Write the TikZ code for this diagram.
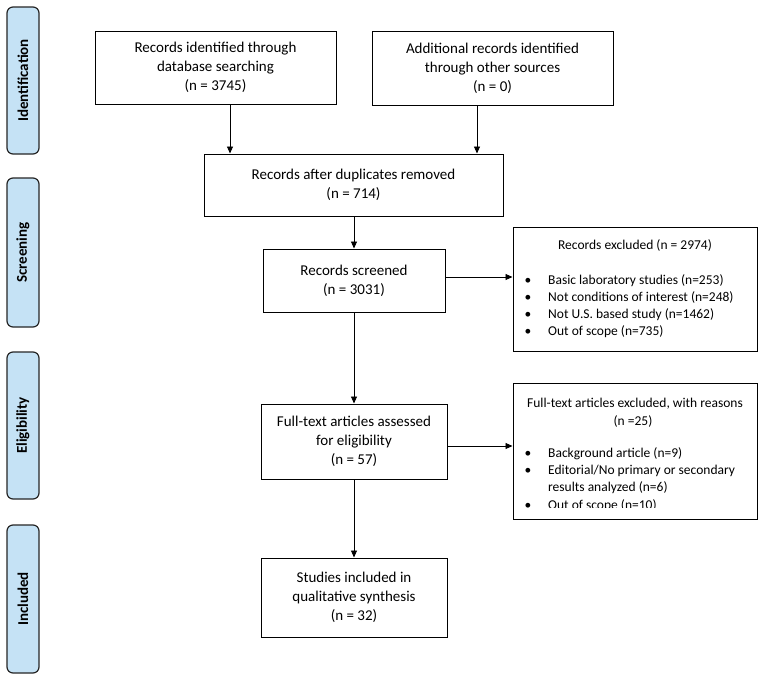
\documentclass[tikz,border=0pt]{standalone}
\usepackage{fontspec}
\setmainfont{Carlito}
\usetikzlibrary{arrows.meta}
\definecolor{tabblue}{RGB}{197,226,245}
\begin{document}
\begin{tikzpicture}[x=1pt,y=-1pt,
  box/.style={draw=black, line width=1pt, inner sep=0pt, align=center, font=\fontsize{15}{19}\selectfont},
  tab/.style={draw=black!85, fill=tabblue, rounded corners=6pt, line width=1.2pt, rotate=90, minimum height=32pt, inner sep=0pt, font=\bfseries\fontsize{15}{18}\selectfont},
  arr/.style={-{Triangle[length=7pt,width=6pt]}, line width=0.9pt},
  txt/.style={anchor=base, inner sep=0pt, font=\fontsize{13.5}{17}\selectfont},
  txtl/.style={txt, anchor=base west},
  ]
\fill[white] (0,0) rectangle (764,681);
\useasboundingbox (0,0) rectangle (764,681);

% side tabs
\node[tab, minimum width=147pt] (t1) at (23,80.5) {Identification};
\node[tab, minimum width=149pt] (t2) at (23,252.5) {Screening};
\node[tab, minimum width=147pt] (t3) at (23,425.5) {Eligibility};
\node[tab, minimum width=148pt] (t4) at (23,599) {Included};

% main boxes
\node[box, minimum width=241pt, minimum height=73pt] (b1) at (215.5,67.5) {Records identified through\\database searching\\(n = 3745)};
\node[box, minimum width=241pt, minimum height=74pt] (b2) at (492.5,68) {Additional records identified\\through other sources\\(n = 0)};
\node[box, minimum width=299pt, minimum height=62pt] (b3) at (353.5,185) {Records after duplicates removed\\(n = 714)};
\node[box, minimum width=182pt, minimum height=63pt] (b4) at (354,280.5) {Records screened\\(n = 3031)};
\node[box, minimum width=186pt, minimum height=75pt] (b5) at (354,441.5) {Full-text articles assessed\\for eligibility\\(n = 57)};
\node[box, minimum width=186pt, minimum height=79pt] (b6) at (354,597.5) {Studies included in\\qualitative synthesis\\(n = 32)};

% exclusion boxes
\node[box, minimum width=244pt, minimum height=124pt] (e1) at (635,289) {};
\node[box, minimum width=244pt, minimum height=136pt] (e2) at (635,451) {};

\node[txt] (e1h) at (635,249.5) {Records excluded (n = 2974)};
\node[txt] (e1d1) at (528,284.5) {\textbullet};
\node[txtl] (e1t1) at (548,284.5) {Basic laboratory studies (n=253)};
\node[txt] (e1d2) at (528,301.5) {\textbullet};
\node[txtl] (e1t2) at (548,301.5) {Not conditions of interest (n=248)};
\node[txt] (e1d3) at (528,318.5) {\textbullet};
\node[txtl] (e1t3) at (548,318.5) {Not U.S. based study (n=1462)};
\node[txt] (e1d4) at (528,335.5) {\textbullet};
\node[txtl] (e1t4) at (548,335.5) {Out of scope (n=735)};

\node[txt] (e2h) at (635,407.5) {Full-text articles excluded, with reasons};
\node[txt] (e2n) at (633,425.5) {(n =25)};
\node[txt] (e2d1) at (528,457.5) {\textbullet};
\node[txtl] (e2t1) at (548,457.5) {Background article (n=9)};
\node[txt] (e2d2) at (528,474.5) {\textbullet};
\node[txtl] (e2t2) at (548,474.5) {Editorial/No primary or secondary};
\node[txtl] (e2t2b) at (548,491.5) {results analyzed (n=6)};
\begin{scope}
  \clip (514,495) rectangle (756,507.5);
  \node[txt] (e2d3) at (528,509.5) {\textbullet};
  \node[txtl] (e2t3) at (548,509.5) {Out of scope (n=10)};
\end{scope}

% connectors
\coordinate (c1) at (230,0);
\coordinate (c2) at (477,0);
\coordinate (r1) at (0,277);
\coordinate (r2) at (0,446);
\draw[arr] (b1.south -| c1) -- (b3.north -| c1);
\draw[arr] (b2.south -| c2) -- (b3.north -| c2);
\draw[arr] (b3.south -| b4.north) -- (b4.north);
\draw[arr] (b4.south) -- (b5.north);
\draw[arr] (b5.south) -- (b6.north);
\draw[arr] (b4.east |- r1) -- (e1.west |- r1);
\draw[arr] (b5.east |- r2) -- (e2.west |- r2);
\end{tikzpicture}
\end{document}
